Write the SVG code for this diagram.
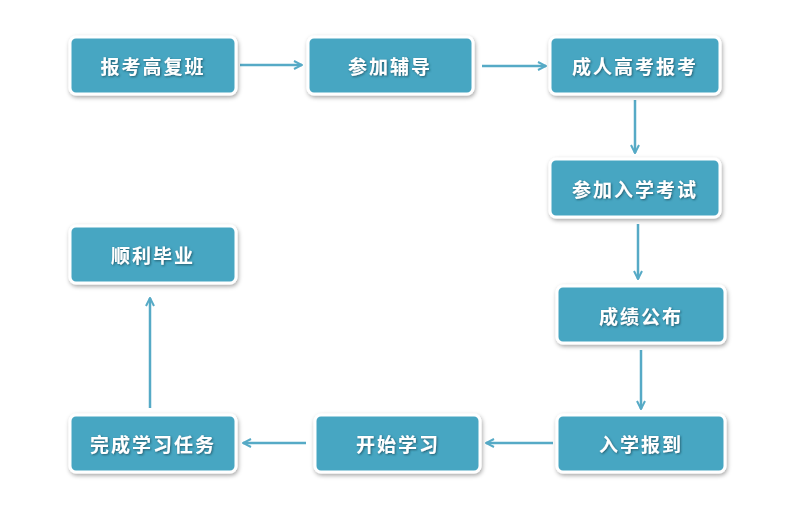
<svg xmlns="http://www.w3.org/2000/svg" width="800" height="514" viewBox="0 0 800 514">
<defs>
<filter id="sh" x="-10%" y="-20%" width="125%" height="150%">
<feDropShadow dx="1" dy="2" stdDev="2" flood-color="#000" flood-opacity="0.35"/>
</filter>
<filter id="ts" x="-10%" y="-20%" width="120%" height="150%">
<feDropShadow dx="1" dy="1" stdDeviation="0.8" flood-color="#1a4a5a" flood-opacity="0.8"/>
</filter>
<marker id="ah" viewBox="0 0 10 10" refX="9" refY="5" markerWidth="10" markerHeight="10" markerUnits="userSpaceOnUse" orient="auto">
<path d="M1,1 L9,5 L1,9" fill="none" stroke="#56aac6" stroke-width="2"/>
</marker>
<style>
.box{fill:#47a6c2;stroke:#fff;stroke-width:3;filter:url(#sh)}
.t{font-family:"Noto Sans CJK SC","Noto Sans CJK TC",sans-serif;font-weight:bold;font-size:19px;fill:#fff;text-anchor:middle;dominant-baseline:central;letter-spacing:2px;filter:url(#ts)}
.c{stroke:#56aac6;stroke-width:2.5;fill:none;marker-end:url(#ah)}
</style>
</defs>
<rect width="800" height="514" fill="#fff"/>
<g id="connectors">
<line class="c" x1="240" y1="65" x2="302" y2="65"/>
<line class="c" x1="482" y1="66" x2="546" y2="66"/>
<line class="c" x1="635" y1="100" x2="635" y2="153"/>
<line class="c" x1="638" y1="224" x2="638" y2="279"/>
<line class="c" x1="641" y1="350" x2="641" y2="409"/>
<line class="c" x1="553" y1="443" x2="486" y2="443"/>
<line class="c" x1="306" y1="443" x2="243" y2="443"/>
<line class="c" x1="150" y1="408" x2="150" y2="298"/>
</g>
<g id="n1"><rect class="box" x="70" y="37" width="166" height="57" rx="6"/><text class="t" x="153" y="65">报考高复班</text></g>
<g id="n2"><rect class="box" x="308" y="37" width="165" height="57" rx="6"/><text class="t" x="390" y="65">参加辅导</text></g>
<g id="n3"><rect class="box" x="550" y="37" width="170" height="57" rx="6"/><text class="t" x="635" y="65">成人高考报考</text></g>
<g id="n4"><rect class="box" x="550" y="159" width="170" height="58" rx="6"/><text class="t" x="635" y="188">参加入学考试</text></g>
<g id="n5"><rect class="box" x="557" y="286" width="168" height="57" rx="6"/><text class="t" x="641" y="315">成绩公布</text></g>
<g id="n6"><rect class="box" x="557" y="415" width="168" height="57" rx="6"/><text class="t" x="641" y="443">入学报到</text></g>
<g id="n7"><rect class="box" x="315" y="415" width="165" height="57" rx="6"/><text class="t" x="398" y="443">开始学习</text></g>
<g id="n8"><rect class="box" x="70" y="415" width="166" height="57" rx="6"/><text class="t" x="153" y="443">完成学习任务</text></g>
<g id="n9"><rect class="box" x="70" y="226" width="166" height="57" rx="6"/><text class="t" x="153" y="254">顺利毕业</text></g>
</svg>
